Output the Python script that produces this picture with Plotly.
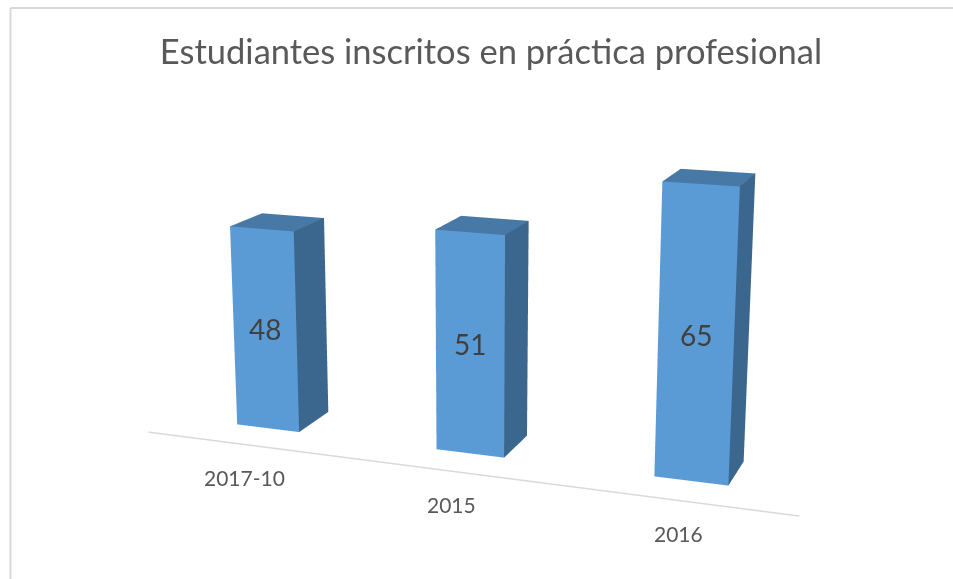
import plotly.graph_objects as go

categories = ["2017-10", "2015", "2016"]
values = [48, 51, 65]
title_text = "Estudiantes inscritos en práctica profesional"

FRONT = "#5B9BD5"
SIDE = "#3B678F"
TOP = "#4778A6"
TEXT = "#595959"
LINE = "#D9D9D9"
FONT = "Lato, Carlito, sans-serif"

HALF_W = 0.16
FRONT_Y = -0.105
BACK_Y = 0.105
FLOOR_Y = -0.265

# plotly's 3d field of view is fixed, so the flat perspective of the original
# needs a taller scene than the window; the page shows the middle band of it
WIN_W, WIN_H = 953, 579
SCENE_H = 1408
TOP_CUT = (SCENE_H - WIN_H) // 2


def paper_y(py):
    return 1 - (py + TOP_CUT) / SCENE_H


def bar_mesh(pos, height):
    x0, x1 = pos - HALF_W, pos + HALF_W
    xs = [x0, x1, x1, x0, x0, x1, x1, x0]
    ys = [FRONT_Y, FRONT_Y, BACK_Y, BACK_Y, FRONT_Y, FRONT_Y, BACK_Y, BACK_Y]
    zs = [0, 0, 0, 0, height, height, height, height]
    # front, right side, top only, the rest is never seen
    i = [0, 0, 1, 1, 4, 4]
    j = [1, 5, 2, 6, 5, 6]
    k = [5, 4, 6, 5, 6, 7]
    return go.Mesh3d(
        x=xs, y=ys, z=zs, i=i, j=j, k=k,
        facecolor=[FRONT, FRONT, SIDE, SIDE, TOP, TOP],
        flatshading=True,
        lighting=dict(ambient=1, diffuse=0, specular=0, fresnel=0, roughness=1),
        hoverinfo="skip",
        showscale=False,
    )


fig = go.Figure()
for idx, val in enumerate(values):
    fig.add_trace(bar_mesh(idx, val))

fig.add_trace(
    go.Scatter3d(
        x=[-0.49, 2.50], y=[FLOOR_Y, FLOOR_Y], z=[0, 0],
        mode="lines",
        line=dict(color=LINE, width=3),
        hoverinfo="skip",
        showlegend=False,
    )
)

labels = []
for idx, (cat, val) in enumerate(zip(categories, values)):
    labels.append(dict(x=idx, y=FRONT_Y, z=val / 2, text=str(val), showarrow=False, yshift=1,
                       font=dict(family=FONT, size=28, color="#404040")))
    labels.append(dict(x=idx, y=FLOOR_Y, z=0, text=cat, showarrow=False, xshift=1, yshift=-33.5,
                       font=dict(family=FONT, size=21, color=TEXT)))

hidden = dict(visible=False, showgrid=False, zeroline=False, showbackground=False)

fig.update_layout(
    width=WIN_W,
    height=SCENE_H,
    margin=dict(l=0, r=0, t=0, b=0),
    paper_bgcolor="#ffffff",
    showlegend=False,
    title=dict(
        text=title_text,
        x=491 / WIN_W,
        xanchor="center",
        y=paper_y(52),
        yanchor="middle",
        font=dict(family=FONT, size=34.5, color=TEXT),
    ),
    scene=dict(
        domain=dict(x=[0, 1], y=[0, 1]),
        xaxis=dict(range=[-1.028, 2.972], **hidden),
        yaxis=dict(range=[-1, 1], **hidden),
        zaxis=dict(range=[-4, 76], **hidden),
        aspectmode="manual",
        aspectratio=dict(x=2.66, y=2, z=1.046),
        camera=dict(
            eye=dict(x=1.68, y=-4.55, z=1.22),
            up=dict(x=0, y=0, z=1),
            center=dict(x=0, y=0, z=0),
        ),
        annotations=labels,
    ),
    shapes=[
        dict(type="line", xref="paper", yref="paper", x0=10.5 / WIN_W, x1=10.5 / WIN_W,
             y0=paper_y(WIN_H), y1=paper_y(8), line=dict(color=LINE, width=2)),
        dict(type="line", xref="paper", yref="paper", x0=10.5 / WIN_W, x1=1,
             y0=paper_y(8), y1=paper_y(8), line=dict(color=LINE, width=2)),
    ],
)

page_fix = (
    "document.body.style.margin='0';"
    "document.body.style.overflow='hidden';"
    f"document.getElementById('{{plot_id}}').style.marginTop='-{TOP_CUT}px';"
)
fig.write_html("out.html", post_script=page_fix)
